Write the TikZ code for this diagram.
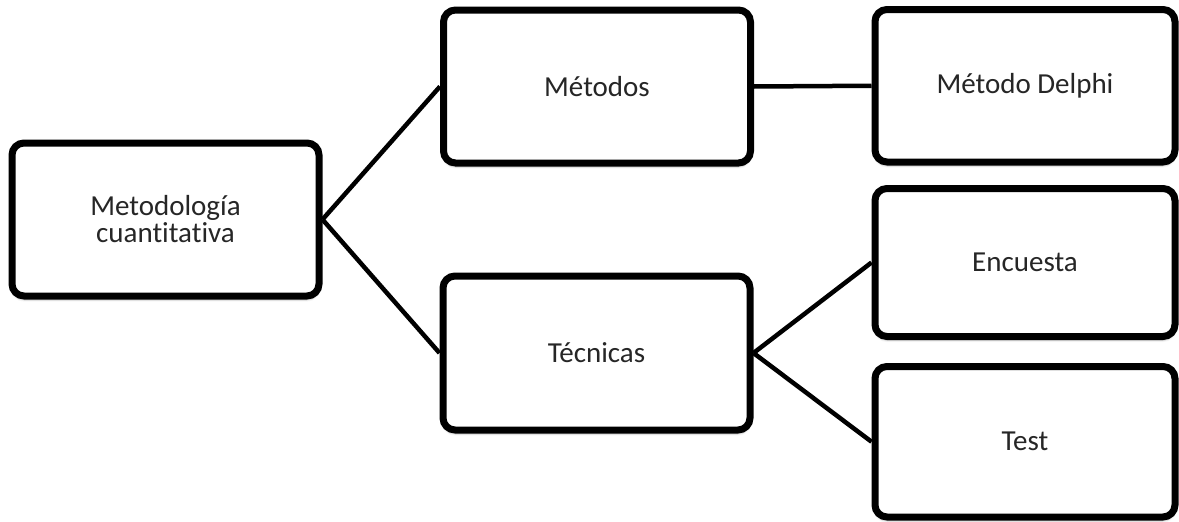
\documentclass[tikz,border=0pt]{standalone}
\usepackage{fontspec}
\setmainfont{Carlito}[Ligatures=NoCommon]
\usetikzlibrary{shadows.blur}
\begin{document}
\begin{tikzpicture}[x=1pt,y=-1pt,
  box/.style={draw=black, line width=7pt, rounded corners=12pt, fill=white,
    minimum width=307pt, minimum height=153pt, inner sep=0pt, align=center,
    text=black!85, font=\fontsize{29}{27}\selectfont,
    blur shadow={shadow xshift=0pt, shadow yshift=-4pt, shadow blur steps=6, shadow opacity=22}},
  link/.style={line width=4.5pt}]
\useasboundingbox (0,0) rectangle (1179,522);

% boxes
\node[box] (meta) at (165.5,219.5) {Metodología\\cuantitativa};
\node[box] (metodos) at (597,86.5) {Métodos};
\node[box, minimum height=154pt] (tecnicas) at (596.5,353) {Técnicas};
\node[box, minimum width=300pt, minimum height=152.5pt] (delphi) at (1025,85.75) {Método Delphi};
\node[box, minimum width=300pt, minimum height=148pt] (encuesta) at (1025,262.5) {Encuesta};
\node[box, minimum width=300pt, minimum height=150.5pt] (test) at (1025,441.75) {Test};

% connectors
\draw[link] (meta.east) -- (metodos.west);
\draw[link] (meta.east) -- (tecnicas.west);
\draw[link] (metodos.east) -- (delphi.west);
\draw[link] (tecnicas.east) -- (encuesta.west);
\draw[link] (tecnicas.east) -- (test.west);
\end{tikzpicture}
\end{document}
